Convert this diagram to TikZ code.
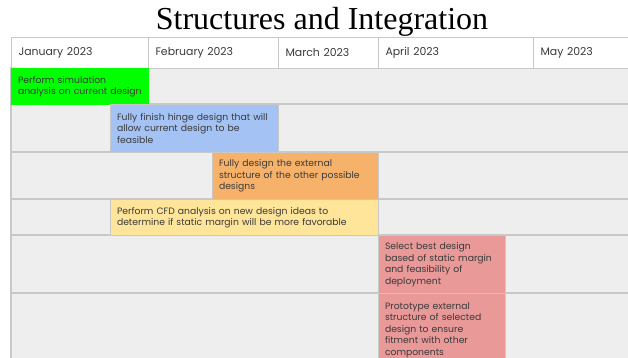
\documentclass[tikz,border=0pt]{standalone}
\usepackage{fontspec}
\setmainfont{Liberation Serif}
\newfontfamily\ganttfont{Poppins}
\definecolor{rowgray}{HTML}{EEEEEE}
\definecolor{gridgray}{HTML}{C8C8C8}
\definecolor{inkgray}{HTML}{3A3A3A}
\definecolor{simgreen}{HTML}{00FF00}
\definecolor{hingeblue}{HTML}{A4C2F4}
\definecolor{extorange}{HTML}{F6B26B}
\definecolor{cfdyellow}{HTML}{FFE599}
\definecolor{selred}{HTML}{EA9999}
\begin{document}
\begin{tikzpicture}[x=1pt,y=-1pt,
	month/.style={draw=gridgray,line width=1pt,fill=white,anchor=north west,inner xsep=7pt,inner ysep=0pt,minimum height=31pt,align=left,font=\ganttfont\fontsize{10.9}{12}\selectfont,text=inkgray},
	task/.style={draw=gridgray,line width=1pt,anchor=north west,inner xsep=6.5pt,inner ysep=0pt,align=left,font=\ganttfont\fontsize{9.25}{11.5}\selectfont,text=inkgray}]
	\useasboundingbox (0,0) rectangle (628,358);
	\clip (0,0) rectangle (628,358);

	%title
	\node[font=\fontsize{32}{36}\selectfont,anchor=base] (title) at (322,30) {Structures and Integration};

	%rows
	\foreach \top/\bot in {68/104, 104/152, 152/199, 199/235, 235/293, 293/370}{
		\filldraw[fill=rowgray, draw=gridgray, line width=1.2pt] (11,\top) rectangle (660,\bot);
	}

	%months
	\node[month, minimum width=137pt, text width=123pt] (jan) at (11,37) {January 2023};
	\node[month, minimum width=130pt, text width=116pt] (feb) at (148,37) {February 2023};
	\node[month, minimum width=100pt, text width=86pt] (mar) at (278,37) {March 2023};
	\node[month, minimum width=155pt, text width=141pt] (apr) at (378,37) {April 2023};
	\node[month, minimum width=127pt, text width=113pt] (may) at (533,37) {May 2023};

	%tasks
	\node[task, fill=simgreen, draw=simgreen, minimum width=137pt, minimum height=36pt, text width=124pt] (sim) at (11,68) {Perform simulation\\analysis on current design};
	\node[task, fill=hingeblue, minimum width=168pt, minimum height=48pt, text width=155pt] (hinge) at (110,104) {Fully finish hinge design that will\\allow current design to be\\feasible};
	\node[task, fill=extorange, minimum width=166pt, minimum height=47pt, text width=153pt] (ext) at (212,152) {Fully design the external\\structure of the other possible\\designs};
	\node[task, fill=cfdyellow, minimum width=268pt, minimum height=36pt, text width=255pt] (cfd) at (110,199) {Perform CFD analysis on new design ideas to\\determine if static margin will be more favorable};
	\node[task, fill=selred, minimum width=127pt, minimum height=58pt, text width=114pt] (best) at (378,235) {Select best design\\based of static margin\\and feasibility of\\deployment};
	\node[task, fill=selred, minimum width=127pt, minimum height=73pt, text width=114pt] (proto) at (378,293) {Prototype external\\structure of selected\\design to ensure\\fitment with other\\components};
\end{tikzpicture}
\end{document}
